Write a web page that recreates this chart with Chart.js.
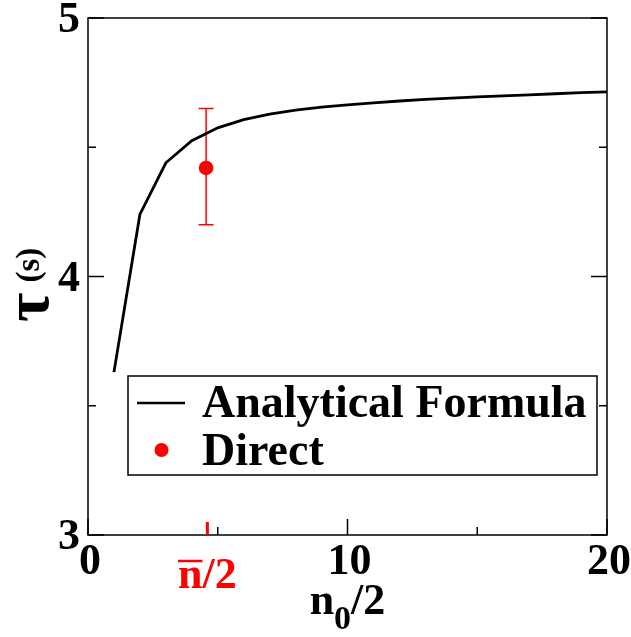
<!DOCTYPE html>
<html><head><meta charset="utf-8">
<script src="https://cdn.jsdelivr.net/npm/chart.js@4/dist/chart.umd.min.js"></script>
<style>html,body{margin:0;padding:0;background:#fff;}#wrap{width:631px;height:637px;}</style>
</head><body><div id="wrap"><canvas id="c" width="631" height="637"></canvas></div>
<script>
// ---- data ----
const nHalf = [1,2,3,4,5,6,7,8,9,10,11,12,13,14,15,16,17,18,19,20];
const tauAnalytical = [3.63,4.24,4.44,4.525,4.575,4.607,4.628,4.644,4.655,4.664,4.672,4.679,4.685,4.690,4.695,4.699,4.703,4.707,4.711,4.714];
const directX = [4.55];
const directTau = [4.42];
const directTauLow = [4.20];
const directTauHigh = [4.65];
const nbarHalf = 4.6;
const xMajorTicks = [0,10,20];
const xMinorTicks = [5,15];
const yMajorTicks = [3,4,5];
const yMinorTicks = [3.5,4.5];
const legendLabels = ['Analytical Formula','Direct'];
const xTitleParts = ['n','0','/2'];
const yTitleParts = ['\u03C4','(s)'];
const nbarLabel = 'n/2';

const SERIF = '"Liberation Serif", "Times New Roman", serif';
const RED = '#ff0000';

const framePlugin = {
  id:'frame',
  beforeDatasetsDraw(chart){
    const {ctx, chartArea:a, scales:{x,y}} = chart;
    ctx.save();
    ctx.strokeStyle = RED; ctx.lineWidth = 1.5;
    directX.forEach((v,i)=>{
      const px = x.getPixelForValue(v);
      const lo = y.getPixelForValue(directTauLow[i]);
      const hi = y.getPixelForValue(directTauHigh[i]);
      ctx.beginPath();
      ctx.moveTo(px,lo); ctx.lineTo(px,hi);
      ctx.moveTo(px-7.5,lo); ctx.lineTo(px+7.5,lo);
      ctx.moveTo(px-7.5,hi); ctx.lineTo(px+7.5,hi);
      ctx.stroke();
    });
    ctx.restore();
  },
  afterDatasetsDraw(chart){
    const {ctx, chartArea:a, scales:{x,y}} = chart;
    ctx.save();
    ctx.strokeStyle = '#000'; ctx.lineWidth = 1.5;
    ctx.strokeRect(a.left, a.top, a.right-a.left, a.bottom-a.top);
    ctx.beginPath();
    xMajorTicks.forEach(v=>{const p=x.getPixelForValue(v); ctx.moveTo(p,a.bottom); ctx.lineTo(p,a.bottom-16);});
    xMinorTicks.forEach(v=>{const p=x.getPixelForValue(v); ctx.moveTo(p,a.bottom); ctx.lineTo(p,a.bottom-8);});
    yMajorTicks.forEach(v=>{const p=y.getPixelForValue(v);
      ctx.moveTo(a.left,p); ctx.lineTo(a.left+16,p); ctx.moveTo(a.right,p); ctx.lineTo(a.right-16,p);});
    yMinorTicks.forEach(v=>{const p=y.getPixelForValue(v);
      ctx.moveTo(a.left,p); ctx.lineTo(a.left+8,p); ctx.moveTo(a.right,p); ctx.lineTo(a.right-8,p);});
    ctx.stroke();
    const nb = x.getPixelForValue(nbarHalf);
    ctx.strokeStyle = RED; ctx.lineWidth = 3;
    ctx.beginPath(); ctx.moveTo(nb,a.bottom); ctx.lineTo(nb,a.bottom-13); ctx.stroke();
    ctx.restore();
  },
  afterDraw(chart){
    const {ctx, chartArea:a, scales:{x,y}} = chart;
    ctx.save();
    // red nbar label
    const nb = x.getPixelForValue(nbarHalf);
    ctx.fillStyle = RED; ctx.strokeStyle = RED;
    ctx.font = 'bold 44px ' + SERIF;
    ctx.textBaseline = 'alphabetic'; ctx.textAlign = 'center';
    ctx.fillText(nbarLabel, nb, 588);
    const wn = ctx.measureText('n').width, wall = ctx.measureText(nbarLabel).width;
    const nx0 = nb - wall/2;
    ctx.lineWidth = 2.5;
    ctx.beginPath(); ctx.moveTo(nx0, 561); ctx.lineTo(nx0+wn, 561); ctx.stroke();
    // x title
    ctx.fillStyle = '#000'; ctx.textAlign = 'left';
    ctx.font = 'bold 44px ' + SERIF;
    const w1 = ctx.measureText(xTitleParts[0]).width;
    ctx.font = 'bold 34px ' + SERIF;
    const w2 = ctx.measureText(xTitleParts[1]).width;
    ctx.font = 'bold 44px ' + SERIF;
    const w3 = ctx.measureText(xTitleParts[2]).width;
    const cx = (a.left + a.right)/2;
    let sx = cx - (w1+w2+w3)/2;
    ctx.fillText(xTitleParts[0], sx, 614);
    ctx.font = 'bold 34px ' + SERIF;
    ctx.fillText(xTitleParts[1], sx+w1, 629);
    ctx.font = 'bold 44px ' + SERIF;
    ctx.fillText(xTitleParts[2], sx+w1+w2, 614);
    // y title (rotated)
    ctx.translate(48, 322);
    ctx.rotate(-Math.PI/2);
    ctx.font = 'bold 64px ' + SERIF;
    ctx.fillText(yTitleParts[0], 0, 0);
    const wt = ctx.measureText(yTitleParts[0]).width;
    ctx.font = 'bold 33px ' + SERIF;
    ctx.fillText(yTitleParts[1], wt + 10, -9);
    ctx.restore();
    // legend
    ctx.save();
    const L = 128, T = 376, R = 597, B = 475;
    ctx.fillStyle = '#fff'; ctx.fillRect(L,T,R-L,B-T);
    ctx.strokeStyle = '#000'; ctx.lineWidth = 1.5; ctx.strokeRect(L,T,R-L,B-T);
    ctx.lineWidth = 2.5;
    ctx.beginPath(); ctx.moveTo(137,403); ctx.lineTo(185,403); ctx.stroke();
    ctx.fillStyle = RED; ctx.beginPath(); ctx.arc(161.5,450,7,0,Math.PI*2); ctx.fill();
    ctx.fillStyle = '#000'; ctx.font = 'bold 46px ' + SERIF;
    ctx.textAlign = 'left'; ctx.textBaseline = 'alphabetic';
    ctx.fillText(legendLabels[0], 202, 417);
    ctx.fillText(legendLabels[1], 202, 465);
    ctx.restore();
  }
};

const tickFont = {family: SERIF, weight:'bold', size:44, lineHeight:1.2};

new Chart(document.getElementById('c'), {
  type:'scatter',
  data:{datasets:[
    {label:legendLabels[0], data:nHalf.map((v,i)=>({x:v,y:tauAnalytical[i]})), showLine:true,
     borderColor:'#000', borderWidth:2.8, pointRadius:0, tension:0, fill:false},
    {label:legendLabels[1], data:directX.map((v,i)=>({x:v,y:directTau[i]})), showLine:false,
     pointRadius:7.3, pointBackgroundColor:RED, pointBorderWidth:0, borderColor:RED, backgroundColor:RED}
  ]},
  options:{
    responsive:false, animation:false, devicePixelRatio:1,
    layout:{padding:{top:18,right:24,left:0,bottom:0}},
    plugins:{legend:{display:false}, tooltip:{enabled:false}},
    scales:{
      x:{type:'linear', position:'bottom', min:0, max:20,
        afterBuildTicks:s=>{s.ticks = xMajorTicks.map(v=>({value:v}));},
        afterFit:s=>{s.height = 102; s.paddingLeft = 0; s.paddingRight = 0;},
        grid:{display:false, drawTicks:false}, border:{display:false},
        ticks:{color:'#000', font:tickFont, padding:1, labelOffset:2, maxRotation:0, autoSkip:false}},
      y:{type:'linear', position:'left', min:3, max:5,
        afterBuildTicks:s=>{s.ticks = yMajorTicks.map(v=>({value:v}));},
        afterFit:s=>{s.width = 88; s.paddingTop = 0; s.paddingBottom = 0;},
        grid:{display:false, drawTicks:false}, border:{display:false},
        ticks:{color:'#000', font:tickFont, padding:8, labelOffset:3, autoSkip:false}}
    }
  },
  plugins:[framePlugin]
});
</script></body></html>
